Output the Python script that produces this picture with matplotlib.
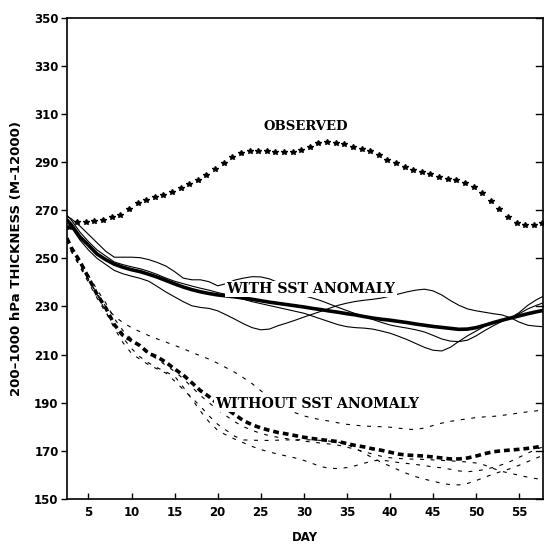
import numpy as np
import matplotlib
matplotlib.use("Agg")
import matplotlib.pyplot as plt

# ---------------- data ----------------
obs_days = np.arange(2.7, 58.0, 1.0)
observed = [263.0, 265.0, 265.3, 265.6, 266.1, 267.3, 268.1, 270.7, 273.0, 274.2,
            275.4, 276.4, 277.6, 279.2, 280.8, 282.6, 284.5, 287.1, 289.6, 292.2,
            293.7, 294.8, 294.8, 294.7, 294.4, 294.3, 294.4, 295.1, 296.5, 297.9,
            298.4, 298.2, 297.5, 296.5, 295.5, 294.6, 293.0, 291.0, 289.6, 287.9,
            286.8, 285.8, 285.1, 284.0, 283.2, 282.5, 281.5, 279.9, 277.4, 274.0,
            270.5, 267.1, 264.9, 263.8, 263.8, 264.9]

days = np.r_[2.5, np.arange(3, 58), 57.7]

with_mean = [266, 264, 259, 255.5, 251.8, 249.5, 247.6, 246.3, 245.3, 244.5,
             243.4, 242.2, 240.8, 239.4, 238.1, 237, 236.1, 235.4, 234.8, 234.4,
             234, 233.5, 233, 232.4, 231.8, 231.3, 230.8, 230.3, 229.8, 229.2,
             228.7, 228.1, 227.6, 227, 226.5, 225.8, 225.2, 224.7, 224.3, 223.8,
             223.3, 222.7, 222.2, 221.7, 221.3, 220.9, 220.5, 220.6, 221.2, 222.2,
             223.3, 224.3, 225.2, 226.1, 227, 227.8, 228.3]
with_a = [267.5, 266.5, 263.5, 260, 256.5, 253, 250.5, 250.5, 250.5, 250.3,
          249.5, 248.3, 246.8, 244.5, 241.8, 241.1, 241.1, 240.3, 238.6, 239.5,
          241, 241.8, 242.4, 242.3, 241.5, 240, 238, 236, 234.5, 233.5,
          232.4, 231, 229.6, 228.3, 227, 225.8, 224.6, 223.4, 222.3, 221.6,
          221, 220.3, 219.4, 218, 216.5, 215.6, 215.4, 216, 217.8, 220,
          222, 223.8, 225.2, 227, 229, 230.5, 231.4]
with_b = [265.5, 263, 257.7, 253.5, 250, 247.5, 245, 243.6, 242.6, 241.7,
          240.5, 238.3, 236, 234, 232, 230.3, 229.6, 229.2, 228.2, 226.5,
          224.7, 222.8, 221.2, 220.3, 220.6, 222, 223.1, 224.3, 225.6, 226.8,
          228, 229.3, 230.5, 231.4, 232.1, 232.6, 233, 233.5, 234.3, 235.2,
          236.1, 236.8, 237.2, 236.5, 234.8, 232.5, 230.5, 229, 228.2, 227.6,
          227, 226.5, 225.3, 223.5, 222.2, 221.8, 221.6]
with_c = [268, 266, 261, 257, 253.5, 251, 248.5, 247.4, 246.5, 245.7,
          244.6, 243.3, 241.8, 240.5, 239.5, 238.5, 237.6, 236.8, 235.8, 235,
          234, 233, 232, 231.2, 230.4, 229.6, 228.8, 228, 227.2, 226,
          224.8, 223.6, 222.4, 221.6, 221.2, 221, 220.6, 219.8, 218.9, 217.6,
          216.2, 214.6, 213, 211.8, 211.5, 213, 215.5, 217.8, 219.8, 221.8,
          223.3, 224.4, 225.3, 227.5, 230.5, 232.8, 234.1]

without_mean = [258.4, 254.5, 248.8, 242, 235, 229.5, 222.5, 218, 215.8, 213.7,
                210.5, 209, 206.8, 204, 201.5, 198.3, 195, 192.5, 189.5, 187.5,
                185, 182.5, 180.8, 179.5, 178.5, 177.6, 177, 176.3, 175.6, 175.1,
                174.6, 174.2, 173.8, 173, 172.2, 171.6, 170.8, 170.2, 169.4, 168.6,
                168.2, 168, 167.8, 167.4, 167, 166.6, 166.6, 167, 167.8, 168.8,
                169.6, 170, 170.3, 170.6, 171, 171.5, 172]
without_a = [257.5, 253, 247, 241, 235.5, 230, 226, 223.3, 221.2, 219.5,
             217.9, 216.5, 215.2, 213.8, 212.5, 210.9, 209.5, 208.1, 206.4, 204.5,
             202.6, 200.3, 197.9, 195, 192, 189.5, 187.5, 185.8, 184.5, 183.6,
             182.9, 182.3, 181.6, 181, 180.6, 180.3, 180.1, 180, 179.8, 179.4,
             179, 178.8, 179.5, 180.5, 181.5, 182.2, 182.8, 183.3, 183.8, 184.1,
             184.3, 184.7, 185.2, 185.7, 186.2, 186.6, 187]
without_b = [258.5, 255, 249.5, 243, 237, 231.5, 225, 220, 216.5, 213.5,
             210.5, 208, 205.5, 203, 200, 196.5, 193, 190, 187, 184.5,
             182, 180, 178.5, 177.2, 176.3, 175.6, 175, 174.5, 174, 173.6,
             173.2, 172.8, 172.3, 171.5, 170.6, 169.6, 168.6, 167.7, 167.1, 166.8,
             166.6, 166.5, 166.4, 166.2, 166, 165.8, 165.6, 165.3, 164.9, 164,
             162.6, 161.4, 160.6, 159.8, 159, 158.4, 158]
without_c = [258, 254, 248, 241.5, 235, 228, 221, 215, 210.5, 208,
             205.7, 204, 202.3, 199, 195.5, 192, 188.5, 184.5, 181, 178.5,
             176, 174.5, 174.4, 174.3, 174.3, 174.4, 174.5, 174.6, 174.6, 174.5,
             174.3, 174, 173.6, 172.6, 171, 169, 167, 165.2, 163.6, 162,
             160.5, 159.2, 158.2, 157.3, 156.5, 155.9, 155.8, 156.4, 157.6, 159,
             160.3, 161.5, 162.6, 164, 165.5, 167, 168]
without_d = [257.5, 253, 246.5, 240, 233.5, 227.5, 222, 217, 212.5, 209,
             206.5, 204.5, 202.8, 201, 196.5, 191.5, 186.5, 182, 178.5, 176.5,
             174.8, 173.3, 171.8, 170.5, 169.5, 168.6, 167.8, 167, 166, 164.7,
             163.4, 162.7, 162.6, 163, 163.8, 164.8, 165.8, 166.2, 165.6, 165.1,
             164.7, 164.3, 163.8, 163.3, 162.9, 162.3, 161.6, 161.3, 161.6, 162.2,
             163.1, 164.2, 165.6, 167.3, 169, 170.7, 171.5]

x_ticks = [5, 10, 15, 20, 25, 30, 35, 40, 45, 50, 55]
y_ticks = [150, 170, 190, 210, 230, 250, 270, 290, 310, 330, 350]

# ---------------- plot ----------------
fig = plt.figure(figsize=(5.44, 5.44), dpi=100)
ax = fig.add_axes([0.123, 0.083, 0.875, 0.884])

for m in (with_a, with_b, with_c):
    ax.plot(days, m, color="black", lw=0.8, zorder=2)
ax.plot(days, with_mean, color="black", lw=2.6, zorder=3, solid_capstyle="round")

for m in (without_a, without_b, without_c, without_d):
    ax.plot(days, m, color="black", lw=0.8, linestyle=(0, (3.5, 6)), zorder=2)
ax.plot(days, without_mean, color="black", lw=2.6, linestyle=(0, (1.6, 1.1)), zorder=3)

ax.plot(obs_days, observed, linestyle="none", marker="*", markersize=3.8,
        color="black", zorder=3)

box = dict(facecolor="white", edgecolor="none", pad=1.0)
ax.text(30.2, 305, "OBSERVED", ha="center", va="center", family="DejaVu Serif",
        weight="bold", fontsize=9.5, zorder=5)
ax.text(21.0, 237.3, "WITH SST ANOMALY", ha="left", va="center", bbox=box,
        family="DejaVu Serif", weight="bold", fontsize=10.2, zorder=5)
ax.text(19.7, 189.5, "WITHOUT SST ANOMALY", ha="left", va="center", bbox=box,
        family="DejaVu Serif", weight="bold", fontsize=10.2, zorder=5)

ax.set_xlim(2.5, 57.75)
ax.set_ylim(150, 350)
ax.set_xticks(x_ticks)
ax.set_yticks(y_ticks)
ax.set_xticklabels([str(t) for t in x_ticks], fontsize=8.5, fontweight="bold")
ax.set_yticklabels([str(t) for t in y_ticks], fontsize=8.5, fontweight="bold")
ax.tick_params(axis="x", direction="in", length=4, width=1, top=False, pad=5)
ax.tick_params(axis="y", direction="out", length=4, width=1, right=False, pad=2)
# right spine inward ticks
for v in y_ticks:
    ax.plot([1.0, 0.985], [v, v], transform=ax.get_yaxis_transform(),
            color="black", lw=1, clip_on=False)

for s in ax.spines.values():
    s.set_linewidth(1.2)

ax.set_xlabel("DAY", fontsize=8.5, fontweight="bold", labelpad=9)
ax.set_ylabel("200\u20131000 hPa THICKNESS (M\u201312000)", fontsize=9.5,
              fontweight="bold", labelpad=8)

fig.savefig("out.png", dpi=100)
